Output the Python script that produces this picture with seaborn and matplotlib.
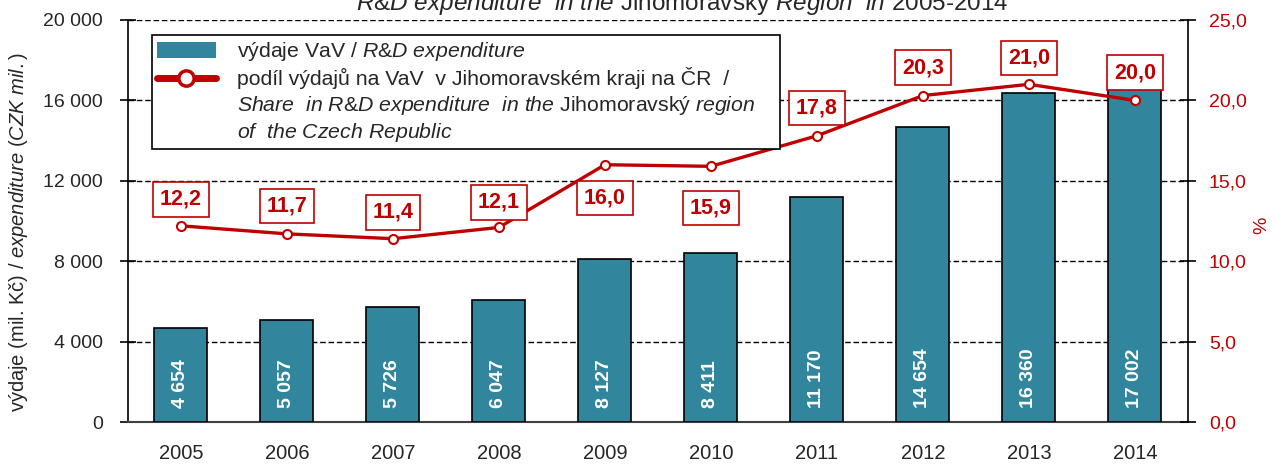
import matplotlib
matplotlib.use("Agg")
import matplotlib.pyplot as plt
import seaborn as sns
from matplotlib.ticker import FuncFormatter, FixedLocator
from matplotlib.lines import Line2D
from matplotlib.patches import Patch

# data
years = ["2005", "2006", "2007", "2008", "2009", "2010", "2011", "2012", "2013", "2014"]
expenditure = [4654, 5057, 5726, 6047, 8127, 8411, 11170, 14654, 16360, 17002]
share = [12.2, 11.7, 11.4, 12.1, 16.0, 15.9, 17.8, 20.3, 21.0, 20.0]

# where each share label sits relative to its marker (points)
label_offsets = [19, 20, 19, 18, -24, -30, 20, 20, 19, 20]

teal = "#31859C"
red = "#C00000"

sns.set_style("white")
plt.rcParams["font.family"] = ["Liberation Sans", "DejaVu Sans"]
plt.rcParams["mathtext.fontset"] = "custom"
plt.rcParams["mathtext.rm"] = "Liberation Sans"
plt.rcParams["mathtext.it"] = "Liberation Sans:italic"
plt.rcParams["mathtext.bf"] = "Liberation Sans:bold"


def thousands(v, pos=None):
    return "{:,}".format(int(round(v))).replace(",", " ")


def comma1(v, pos=None):
    return "{:.1f}".format(v).replace(".", ",")


fig = plt.figure(figsize=(12.72, 4.66), dpi=100)
ax = fig.add_axes([0.1006, 0.0944, 0.8333, 0.8627])

# bars - R&D expenditure
sns.barplot(x=years, y=expenditure, color=teal, saturation=1, width=0.5,
            edgecolor="black", linewidth=1.2, ax=ax, zorder=3)
ax.set_xlim(-0.5, len(years) - 0.5)
ax.set_ylim(0, 20000)
ax.set_yticks(range(0, 20001, 4000))
ax.yaxis.set_major_formatter(FuncFormatter(thousands))
ax.yaxis.grid(True, linestyle=(0, (4, 2)), color="black", linewidth=1)
ax.set_axisbelow(True)
ax.set_xlabel("")
ax.set_ylabel(r"výdaje (mil. Kč) / $\it{expenditure\ (CZK\ mil.)}$", fontsize=14.5)
ax.yaxis.set_label_coords(-0.092, 0.473)

ax.xaxis.set_minor_locator(FixedLocator([i - 0.5 for i in range(len(years) + 1)]))
ax.tick_params(axis="x", which="major", length=0, pad=16, labelsize=14.5)
ax.tick_params(axis="x", which="minor", length=5, width=1.2, color="#404040", direction="out")
ax.tick_params(axis="y", length=12, width=1.2, direction="inout", pad=12, labelsize=14, color="black")

ax.spines["top"].set_visible(False)
ax.spines["right"].set_visible(False)
ax.spines["left"].set_color("black")
ax.spines["left"].set_linewidth(1.2)
ax.spines["bottom"].set_color("#404040")
ax.spines["bottom"].set_linewidth(1.5)

for i, v in enumerate(expenditure):
    ax.annotate(thousands(v), (i, 0), xytext=(0, 10), textcoords="offset points",
                rotation=90, ha="center", va="bottom", color="white",
                fontweight="bold", fontsize=14, zorder=4)

# line - share of the Czech total
ax2 = ax.twinx()
sns.pointplot(x=years, y=share, color=red, markers="o", linewidth=2.4,
              markersize=6.5, markerfacecolor="white", markeredgecolor=red,
              markeredgewidth=1.5, ax=ax2, zorder=5)
ax2.set_xlim(-0.5, len(years) - 0.5)
ax2.set_ylim(0, 25)
ax2.set_yticks(range(0, 26, 5))
ax2.yaxis.set_major_formatter(FuncFormatter(comma1))
ax2.tick_params(axis="y", length=12, width=1.2, direction="inout", pad=9,
                labelsize=14, labelcolor=red, color="black")
ax2.grid(False)
ax2.set_ylabel("%", color=red, fontsize=14)
ax2.yaxis.set_label_coords(1.062, 0.49)
for s in ["top", "left", "bottom"]:
    ax2.spines[s].set_visible(False)
ax2.spines["right"].set_color("black")
ax2.spines["right"].set_linewidth(1.2)

for i, (v, off) in enumerate(zip(share, label_offsets)):
    ax2.annotate(comma1(v), (i, v), xytext=(0, off), textcoords="offset points",
                 ha="center", va="center", color=red, fontweight="bold", fontsize=15.5,
                 bbox=dict(boxstyle="square,pad=0.32", fc="white", ec=red, lw=1.2),
                 zorder=6)

# legend: the line entry's text runs over three rows, the handle sits on the first
blank = Patch(facecolor="none", edgecolor="none")
handles = [
    Patch(facecolor=teal, edgecolor="none"),
    Line2D([], [], color=red, linewidth=5, marker="o", markersize=11,
           markerfacecolor="white", markeredgecolor=red, markeredgewidth=2.5),
    blank,
    blank,
]
labels = [
    r"výdaje VaV / $\it{R&D\ expenditure}$",
    "podíl výdajů na VaV  v Jihomoravském kraji na ČR  /",
    r"$\it{Share\ \ in\ R&D\ expenditure\ \ in\ the}$ Jihomoravský $\it{region}$",
    r"$\it{of\ \ the\ Czech\ Republic}$",
]
leg = ax2.legend(handles, labels, loc="upper left",
                 bbox_to_anchor=(0.0226, 0.682, 0.5925, 0.281), mode="expand",
                 borderaxespad=0, fontsize=15.3, frameon=True, fancybox=False,
                 edgecolor="black", framealpha=1, handlelength=2.75, handleheight=0.77,
                 handletextpad=1.0, labelspacing=0.2, borderpad=0.25)
leg.get_frame().set_linewidth(1.2)

fig.text(0.536, 1 - 10 / 466,
         r"$\it{R&D\ expenditure\ \ in\ the}$ Jihomoravský $\it{Region\ \ in\ 2005}$-$\it{2014}$",
         ha="center", va="baseline", fontsize=17.5)

fig.savefig("out.png", dpi=100)
